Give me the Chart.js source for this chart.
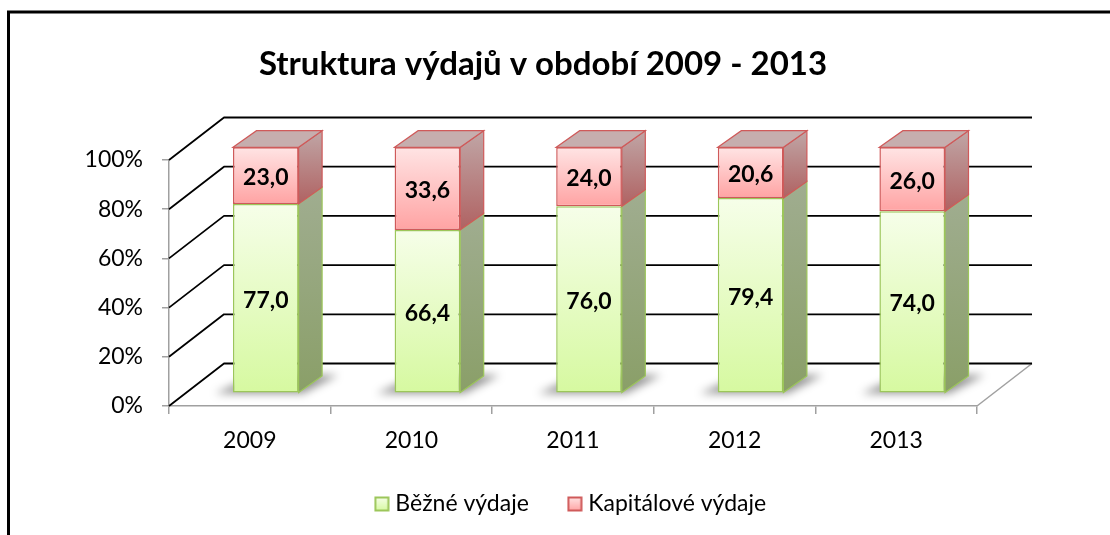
<!DOCTYPE html>
<html><head><meta charset="utf-8">
<script src="https://cdn.jsdelivr.net/npm/chart.js@4.4.1/dist/chart.umd.min.js"></script>
<style>html,body{margin:0;padding:0;background:#fff;overflow:hidden}</style>
</head><body>
<canvas id="c" width="1110" height="535" style="display:block;width:1110px;height:535px"></canvas>
<script>
// ---- data ----
const categories = ['2009', '2010', '2011', '2012', '2013'];
const bezneVydaje = [77.0, 66.4, 76.0, 79.4, 74.0];
const kapitaloveVydaje = [23.0, 33.6, 24.0, 20.6, 26.0];
const seriesNames = ['Běžné výdaje', 'Kapitálové výdaje'];
const yTickValues = [0, 20, 40, 60, 80, 100];
const titleText = 'Struktura výdajů v období 2009 - 2013';

// ---- 3D geometry / styling ----
const DX = 55, DY = -42.5;     // back wall offset
const BX = 16, BY = -12.7;     // bar front plane offset
const SX = 23.5, SY = -16.6;   // bar depth
const FONT = 'Lato';

const styles = [
  { front: ['#f6fee9', '#d6f9a0'], border: '#9cc65a', side: ['#a0ad90', '#8a9f68'], top: '#c9e0a8' },
  { front: ['#ffe4e4', '#ffa3a3'], border: '#cf5a5a', side: ['#c0a6a6', '#b06262'], top: '#c6aeae' }
];

function frontFill(c, st) {
  const chart = c.chart, ys = chart.scales && chart.scales.y;
  if (!chart.chartArea || !ys || c.dataIndex === undefined) return st.front[1];
  let lo = 0;
  for (let k = 0; k < c.datasetIndex; k++) lo += chart.data.datasets[k].data[c.dataIndex];
  const hi = lo + chart.data.datasets[c.datasetIndex].data[c.dataIndex];
  const g = chart.ctx.createLinearGradient(0, ys.getPixelForValue(hi), 0, ys.getPixelForValue(lo));
  g.addColorStop(0, st.front[0]); g.addColorStop(1, st.front[1]);
  return g;
}

function makeIcon(st) {
  const cv = document.createElement('canvas'); cv.width = 16; cv.height = 16;
  const g = cv.getContext('2d');
  const gr = g.createLinearGradient(0, 1, 0, 15);
  gr.addColorStop(0, st.front[0]); gr.addColorStop(1, st.front[1]);
  g.fillStyle = gr; g.fillRect(1, 1, 14, 14);
  g.strokeStyle = st.border; g.lineWidth = 2; g.strokeRect(1.5, 1.5, 13, 13);
  return cv;
}
const legendIcons = styles.map(makeIcon);

const threeD = {
  id: 'threeD',
  beforeDraw(chart) {
    const ctx = chart.ctx;
    ctx.save(); ctx.fillStyle = '#fff'; ctx.fillRect(0, 0, chart.width, chart.height);
    ctx.strokeStyle = '#000'; ctx.lineWidth = 3;
    ctx.beginPath(); ctx.moveTo(8.5, chart.height + 5); ctx.lineTo(8.5, 12); ctx.lineTo(chart.width + 5, 12); ctx.stroke();
    ctx.restore();
  },
  beforeDatasetsDraw(chart) {
    const { ctx, chartArea: a, scales: { y } } = chart;
    ctx.save();
    ctx.strokeStyle = '#a0a0a0'; ctx.lineWidth = 1.5;
    ctx.beginPath(); ctx.moveTo(a.right, a.bottom); ctx.lineTo(a.right + DX, a.bottom + DY); ctx.stroke();
    ctx.strokeStyle = '#000'; ctx.lineWidth = 1.8; ctx.lineJoin = 'round';
    y.ticks.forEach(t => {
      const py = y.getPixelForValue(t.value);
      ctx.beginPath(); ctx.moveTo(a.left, py); ctx.lineTo(a.left + DX, py + DY); ctx.lineTo(a.right + DX, py + DY); ctx.stroke();
    });
    // shadows on floor
    const meta = chart.getDatasetMeta(0);
    ctx.filter = 'blur(4px)'; ctx.fillStyle = 'rgba(0,0,0,0.42)';
    meta.data.forEach(el => {
      const x0 = el.x - el.width / 2 + BX, x1 = el.x + el.width / 2 + BX, b = el.base + BY;
      ctx.beginPath();
      ctx.moveTo(x0 - 18, b + 1); ctx.lineTo(x1 + 4, b + 1);
      ctx.lineTo(x1 + SX + 16, b + SY - 1); ctx.lineTo(x0 + SX, b + SY - 1);
      ctx.closePath(); ctx.fill();
    });
    ctx.restore();
  },
  beforeDatasetDraw(chart) { chart.ctx.save(); chart.ctx.translate(BX, BY); },
  afterDatasetDraw(chart) { chart.ctx.restore(); },
  afterDatasetsDraw(chart) {
    const ctx = chart.ctx;
    const n = chart.data.datasets.length;
    ctx.save();
    ctx.translate(BX, BY);
    for (let d = 0; d < n; d++) {
      const st = styles[d];
      chart.getDatasetMeta(d).data.forEach(el => {
        const top = Math.min(el.y, el.base), bot = Math.max(el.y, el.base);
        const x0 = el.x - el.width / 2, x1 = el.x + el.width / 2;
        const g = ctx.createLinearGradient(0, top + SY, 0, bot);
        g.addColorStop(0, st.side[0]); g.addColorStop(1, st.side[1]);
        ctx.beginPath();
        ctx.moveTo(x1, top); ctx.lineTo(x1 + SX, top + SY); ctx.lineTo(x1 + SX, bot + SY); ctx.lineTo(x1, bot);
        ctx.closePath(); ctx.fillStyle = g; ctx.fill();
        ctx.strokeStyle = st.border; ctx.lineWidth = 1.2; ctx.stroke();
        if (d === n - 1) {
          ctx.beginPath();
          ctx.moveTo(x0, top); ctx.lineTo(x0 + SX, top + SY); ctx.lineTo(x1 + SX, top + SY); ctx.lineTo(x1, top);
          ctx.closePath(); ctx.fillStyle = st.top; ctx.fill();
          ctx.strokeStyle = st.border; ctx.stroke();
        }
      });
    }
    ctx.fillStyle = '#000';
    ctx.font = 'bold 23px ' + FONT;
    ctx.textAlign = 'center'; ctx.textBaseline = 'middle';
    for (let d = 0; d < n; d++) {
      const vals = chart.data.datasets[d].data;
      chart.getDatasetMeta(d).data.forEach((el, i) => {
        const txt = vals[i].toFixed(1).replace('.', ',');
        ctx.fillText(txt, el.x, (el.y + el.base) / 2 + 2);
      });
    }
    ctx.restore();
  }
};

const axisFont = { family: FONT, size: 23 };

new Chart(document.getElementById('c'), {
  type: 'bar',
  data: {
    labels: categories,
    datasets: [
      { label: seriesNames[0], data: bezneVydaje, backgroundColor: c => frontFill(c, styles[0]),
        borderColor: styles[0].border, borderWidth: 1.5, borderSkipped: false, clip: false },
      { label: seriesNames[1], data: kapitaloveVydaje, backgroundColor: c => frontFill(c, styles[1]),
        borderColor: styles[1].border, borderWidth: 1.5, borderSkipped: false, clip: false }
    ]
  },
  options: {
    responsive: false,
    animation: false,
    devicePixelRatio: 1,
    layout: { padding: { left: 0, right: 24, top: 0, bottom: 9.5 } },
    datasets: { bar: { categoryPercentage: 1, barPercentage: 0.406 } },
    scales: {
      x: {
        stacked: true, offset: true,
        grid: { display: true, drawOnChartArea: false, drawTicks: true, tickLength: 8, color: '#a0a0a0', lineWidth: 1.5, offset: true },
        border: { display: true, color: '#a0a0a0', width: 1.5 },
        ticks: { color: '#000', font: axisFont, padding: 13 },
        afterFit(s) { s.height = 42.5; }
      },
      y: {
        stacked: true, min: 0, max: 100,
        afterBuildTicks(s) { s.ticks = yTickValues.map(v => ({ value: v })); },
        ticks: { color: '#000', font: axisFont, padding: 19, callback: v => v + '%' },
        grid: { display: true, drawOnChartArea: false, drawTicks: true, tickLength: 7, color: '#a0a0a0', lineWidth: 1.5 },
        border: { display: true, color: '#a0a0a0', width: 1.5 },
        afterFit(s) { s.width = 169; }
      },
      yR: {
        position: 'right', display: true,
        grid: { display: false }, border: { display: false }, ticks: { display: false },
        afterFit(s) { s.width = 109; }
      }
    },
    plugins: {
      title: {
        display: true, text: titleText, color: '#000',
        font: { family: FONT, size: 33, weight: 'bold', lineHeight: 1.2 },
        padding: { top: 44.2, bottom: 76.2 }
      },
      legend: {
        position: 'bottom', fullSize: false,
        labels: {
          usePointStyle: true, pointStyleWidth: 4, boxHeight: 15,
          color: '#000', font: axisFont, padding: 44,
          generateLabels(chart) {
            const items = Chart.defaults.plugins.legend.labels.generateLabels(chart);
            items.forEach((it, i) => { it.pointStyle = legendIcons[i]; });
            return items;
          }
        }
      },
      tooltip: { enabled: false }
    }
  },
  plugins: [threeD]
});
</script>
</body></html>
